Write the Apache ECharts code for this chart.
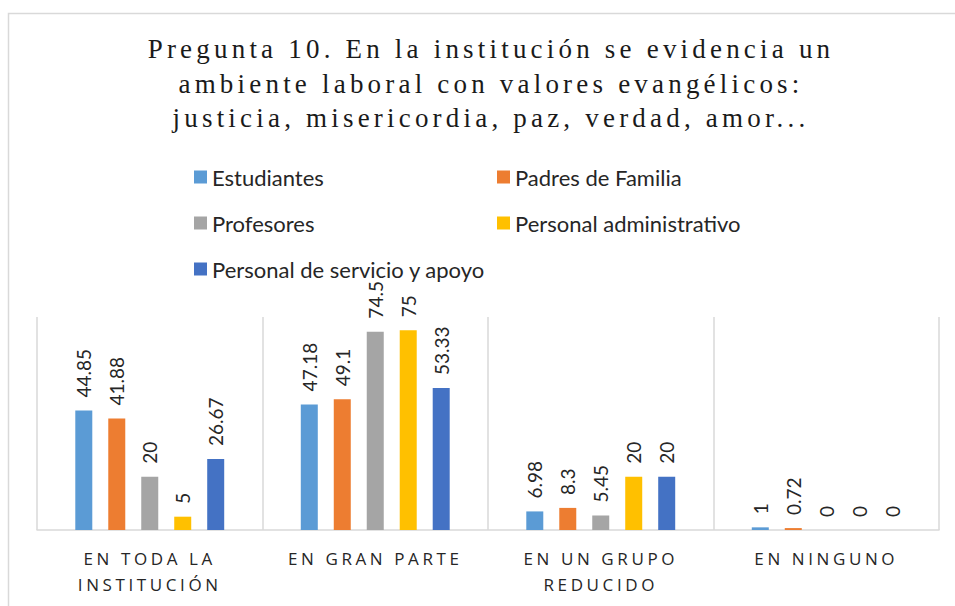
<!DOCTYPE html>
<html lang="es">
<head>
    <meta charset="UTF-8">
    <title>Pregunta 10</title>
    <script src="https://cdn.jsdelivr.net/npm/echarts@6.0.0/dist/echarts.min.js"></script>
    <style>
        html, body { margin: 0; padding: 0; background: #fff; }
        #main { width: 955px; height: 606px; }
        /* letter spacing for title and category labels (svg renderer) */
        #main text[style*="Liberation Serif"] { letter-spacing: 4.2px; }
        #main text[style*="Open Sans"] { letter-spacing: 3.6px; }
    </style>
</head>
<body>
<div id="main"></div>
<script type="text/javascript">
    // categories and series
    const categorias = ['EN TODA LA\nINSTITUCIÓN', 'EN GRAN PARTE', 'EN UN GRUPO\nREDUCIDO', 'EN NINGUNO']
    const estudiantes = [44.85, 47.18, 6.98, 1]
    const padres = [41.88, 49.1, 8.3, 0.72]
    const profesores = [20, 74.5, 5.45, 0]
    const administrativo = [5, 75, 20, 0]
    const servicio = [26.67, 53.33, 20, 0]

    const nombres = ['Estudiantes', 'Padres de Familia', 'Profesores', 'Personal administrativo', 'Personal de servicio y apoyo']
    const colores = ['#5B9BD5', '#ED7D31', '#A5A5A5', '#FFC000', '#4472C4']
    const valores = [estudiantes, padres, profesores, administrativo, servicio]

    const textColor = '#262626'

    let chart = echarts.init(document.getElementById('main'), null, {renderer: 'svg'})

    let series = valores.map(function (v, i) {
        return {
            name: nombres[i],
            type: 'bar',
            data: v,
            barWidth: 17,
            barGap: '94%',
            itemStyle: {color: colores[i]},
            label: {
                show: true,
                position: 'top',
                rotate: 90,
                align: 'left',
                verticalAlign: 'middle',
                distance: 13,
                color: textColor,
                fontFamily: 'Lato',
                fontSize: 19
            }
        }
    })

    let legendText = {color: textColor, fontFamily: 'Lato', fontSize: 22}

    let option = {
        backgroundColor: '#fff',
        animation: false,
        title: {
            text: 'Pregunta 10. En la institución se evidencia un\nambiente laboral con valores evangélicos:\njusticia, misericordia, paz, verdad, amor...',
            left: 486,
            top: 27,
            textAlign: 'center',
            textStyle: {
                fontFamily: 'Liberation Serif',
                fontWeight: 'normal',
                fontSize: 27,
                lineHeight: 34.5,
                color: '#1a1a1a'
            }
        },
        graphic: [{
            type: 'rect',
            shape: {x: 8.5, y: 13.5, width: 960, height: 600},
            style: {fill: 'none', stroke: '#d9d9d9', lineWidth: 1.5},
            silent: true
        }],
        legend: [{
            data: ['Estudiantes', 'Profesores', 'Personal de servicio y apoyo'],
            orient: 'vertical',
            left: 189,
            top: 161,
            itemWidth: 13,
            itemHeight: 13,
            itemGap: 24,
            icon: 'rect',
            textStyle: legendText
        }, {
            data: ['Padres de Familia', 'Personal administrativo'],
            orient: 'vertical',
            left: 492,
            top: 161,
            itemWidth: 13,
            itemHeight: 13,
            itemGap: 24,
            icon: 'rect',
            textStyle: legendText
        }],
        grid: {left: 37, right: 16, top: 317, bottom: 76},
        xAxis: {
            type: 'category',
            data: categorias,
            axisLine: {lineStyle: {color: '#d9d9d9', width: 1.5}},
            axisTick: {show: false},
            splitLine: {show: true, lineStyle: {color: '#d9d9d9', width: 1.5}},
            axisLabel: {
                margin: 15,
                color: textColor,
                fontFamily: 'Open Sans',
                fontSize: 17,
                lineHeight: 26
            }
        },
        yAxis: {
            type: 'value',
            min: 0,
            max: 80,
            interval: 10,
            axisLine: {show: false},
            axisTick: {show: false},
            axisLabel: {show: false},
            splitLine: {show: false}
        },
        series: series
    }
    chart.setOption(option)
</script>
</body>
</html>
